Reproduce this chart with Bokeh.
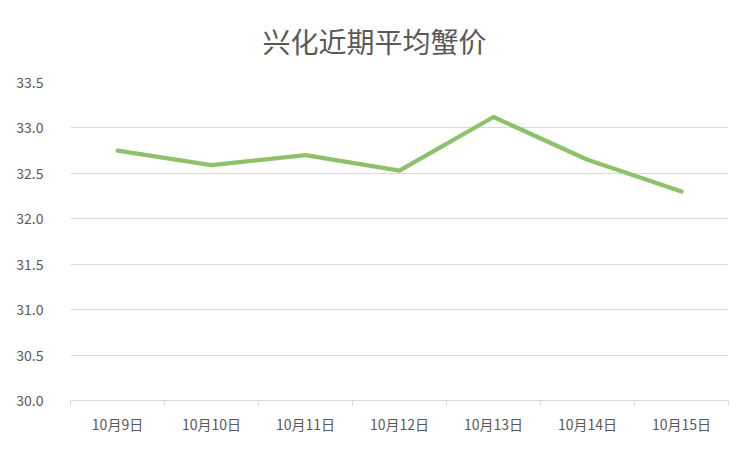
from bokeh.plotting import figure
from bokeh.models import Range1d, FixedTicker, NumeralTickFormatter
from bokeh.embed import file_html
from bokeh.resources import INLINE

title_text = "兴化近期平均蟹价"
dates = ["10月9日", "10月10日", "10月11日", "10月12日", "10月13日", "10月14日", "10月15日"]
prices = [32.75, 32.59, 32.70, 32.53, 33.12, 32.65, 32.30]
y_ticks = [30.0, 30.5, 31.0, 31.5, 32.0, 32.5, 33.0, 33.5]

FONT = "Noto Sans CJK SC"
TXT = "#595959"

xs = [i + 0.5 for i in range(len(dates))]

p = figure(width=736, height=436, output_backend="svg", toolbar_location=None,
           x_range=Range1d(0, len(dates)), y_range=Range1d(30.0, 33.5),
           title=title_text)
p.min_border_left = 70
p.min_border_right = 8
p.min_border_top = 82
p.min_border_bottom = 36
p.outline_line_color = None
p.background_fill_color = "white"
p.border_fill_color = "white"

p.title.align = "left"
p.title.vertical_align = "top"
p.title.text_font = FONT
p.title.text_font_size = "28px"
p.title.text_font_style = "normal"
p.title.text_color = TXT
p.title.offset = 192
p.title.standoff = 40

p.line(xs, prices, line_color="#8DC26A", line_width=4.2, line_join="round", line_cap="round")

# y axis
p.yaxis.ticker = FixedTicker(ticks=y_ticks)
p.yaxis.formatter = NumeralTickFormatter(format="0.0")
p.yaxis.axis_line_color = None
p.yaxis.major_tick_line_color = None
p.yaxis.minor_tick_line_color = None
p.yaxis.major_label_text_font = FONT
p.yaxis.major_label_text_font_size = "14px"
p.yaxis.major_label_text_color = TXT
p.yaxis.major_label_standoff = 21

# x axis
p.xaxis.ticker = FixedTicker(ticks=xs, minor_ticks=list(range(len(dates) + 1)))
p.xaxis.major_label_overrides = {x: d for x, d in zip(xs, dates)}
p.xaxis.axis_line_color = "#D9D9D9"
p.xaxis.axis_line_width = 1
p.xaxis.major_tick_line_color = None
p.xaxis.minor_tick_line_color = "#D9D9D9"
p.xaxis.minor_tick_out = 5
p.xaxis.minor_tick_in = 0
p.xaxis.major_label_text_font = FONT
p.xaxis.major_label_text_font_size = "14px"
p.xaxis.major_label_text_color = TXT
p.xaxis.major_label_standoff = 7

p.xgrid.grid_line_color = None
p.ygrid.ticker = FixedTicker(ticks=y_ticks[1:])
p.ygrid.grid_line_color = "#D9D9D9"
p.ygrid.grid_line_width = 1

open("out.html", "w").write(file_html(p, INLINE))
